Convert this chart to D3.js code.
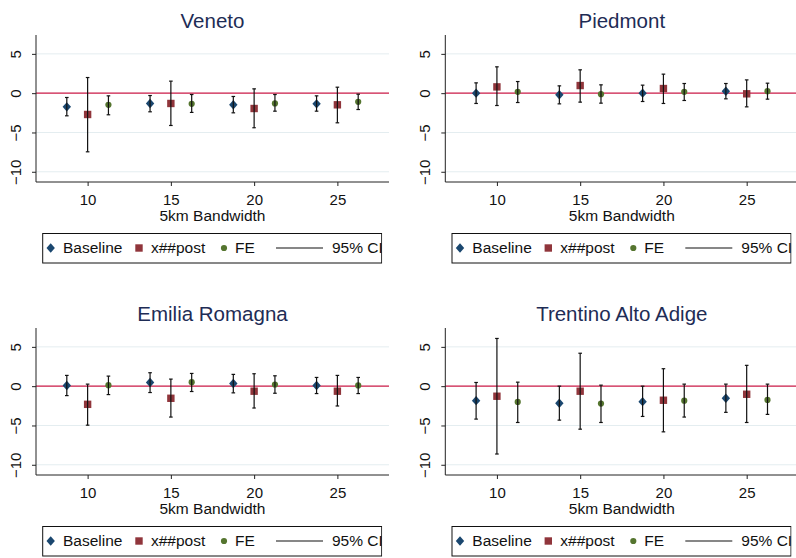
<!DOCTYPE html>
<html><head><meta charset="utf-8">
<script src="https://cdn.jsdelivr.net/npm/d3@7"></script>
<style>body{margin:0;background:#fff}svg{display:block}text{font-family:"Liberation Sans",Arial,sans-serif}</style>
</head><body><svg id="c" width="796" height="558"></svg>
<script>
const bandwidths = [10, 15, 20, 25];
const seriesNames = ["Baseline", "x##post", "FE"];
const seriesOffsets = [-1.25, 0, 1.25];
const yTicks = [5, 0, -5, -10];
const xTicks = [10, 15, 20, 25];
const regions = ["Veneto", "Piedmont", "Emilia Romagna", "Trentino Alto Adige"];

// [estimate, upper, lower] per bandwidth
const venetoBaseline = [[-1.74,-0.55,-2.88],[-1.31,-0.30,-2.37],[-1.48,-0.42,-2.50],[-1.36,-0.34,-2.29]];
const venetoPost     = [[-2.71,1.99,-7.46],[-1.31,1.53,-4.11],[-1.95,0.55,-4.40],[-1.48,0.76,-3.77]];
const venetoFE       = [[-1.48,-0.34,-2.75],[-1.36,-0.17,-2.45],[-1.31,-0.17,-2.29],[-1.10,-0.13,-2.08]];

const piedmontBaseline = [[0.00,1.31,-1.31],[-0.21,0.93,-1.36],[0.00,1.02,-1.06],[0.25,1.23,-0.72]];
const piedmontPost     = [[0.80,3.35,-1.57],[0.97,2.97,-1.14],[0.59,2.42,-1.31],[-0.08,1.69,-1.74]];
const piedmontFE       = [[0.17,1.48,-1.19],[-0.13,1.06,-1.27],[0.17,1.23,-0.93],[0.25,1.27,-0.76]];

const emiliaBaseline = [[0.09,1.37,-1.20],[0.47,1.71,-0.81],[0.34,1.50,-0.85],[0.09,1.11,-0.94]];
const emiliaPost     = [[-2.31,0.26,-4.96],[-1.54,0.90,-3.93],[-0.64,1.58,-2.78],[-0.64,1.37,-2.52]];
const emiliaFE       = [[0.13,1.28,-1.07],[0.51,1.62,-0.68],[0.21,1.32,-0.90],[0.09,1.11,-0.94]];

const trentinoBaseline = [[-1.84,0.47,-4.19],[-2.18,0.00,-4.32],[-1.97,0.00,-3.85],[-1.54,0.26,-3.33]];
const trentinoPost     = [[-1.28,6.07,-8.63],[-0.64,4.19,-5.47],[-1.79,2.22,-5.81],[-1.03,2.65,-4.62]];
const trentinoFE       = [[-2.01,0.51,-4.62],[-2.22,0.13,-4.62],[-1.84,0.26,-3.93],[-1.75,0.26,-3.59]];

const panelData = [
  [venetoBaseline, venetoPost, venetoFE],
  [piedmontBaseline, piedmontPost, piedmontFE],
  [emiliaBaseline, emiliaPost, emiliaFE],
  [trentinoBaseline, trentinoPost, trentinoFE]
];

const colors = ["#1a476f", "#90353b", "#55752f"];
const svg = d3.select("#c");
const defs = svg.append("defs");
const diamondPath = "M0,-4.7L4.2,0L0,4.7L-4.2,0Z";

function drawMarker(sel, s) {
  if (s === 0) sel.append("path").attr("d", diamondPath).attr("fill", colors[0]);
  else if (s === 1) sel.append("rect").attr("x", -3.7).attr("y", -3.7).attr("width", 7.4).attr("height", 7.4).attr("fill", colors[1]);
  else sel.append("circle").attr("r", 3.1).attr("fill", colors[2]);
}

regions.forEach((name, i) => {
  const col = i % 2, row = Math.floor(i / 2);
  const dx = col * 409.3, dy = row * 293;
  const g = svg.append("g").attr("transform", `translate(${dx},${dy})`);
  const x = d3.scaleLinear().domain([6.9, 28.1]).range([36, 389]);
  const y = d3.scaleLinear().domain([-11.3, 7.4]).range([182, 35]);

  g.selectAll(".grid").data(yTicks).join("line")
    .attr("x1", x.range()[0]).attr("x2", x.range()[1])
    .attr("y1", d => y(d)).attr("y2", d => y(d))
    .attr("stroke", "#e4edf0").attr("stroke-width", 1);

  g.append("line").attr("x1", x.range()[0]).attr("x2", x.range()[1])
    .attr("y1", y(0)).attr("y2", y(0)).attr("stroke", "#d01f4a").attr("stroke-width", 1.3);

  const yAxis = d3.axisLeft(y).tickValues(yTicks).tickSize(4).tickFormat(d3.format("d"));
  const ya = g.append("g").attr("transform", `translate(${x.range()[0]},0)`).call(yAxis)
    .attr("font-family", null).attr("font-size", null);
  ya.select(".domain").attr("d", `M0,${y.range()[1]}V${y.range()[0]}`).attr("stroke", "#222");
  ya.selectAll(".tick line").attr("stroke", "#222");
  ya.selectAll(".tick text").attr("font-size", 15).attr("fill", "#111")
    .attr("transform", "rotate(-90)").attr("x", 0).attr("y", -15.5).attr("dy", 0)
    .attr("text-anchor", "middle");

  const xAxis = d3.axisBottom(x).tickValues(xTicks).tickSize(4);
  const xa = g.append("g").attr("transform", `translate(0,${y.range()[0]})`).call(xAxis)
    .attr("font-family", null).attr("font-size", null);
  xa.select(".domain").attr("d", `M${x.range()[0]},0H${x.range()[1]}`).attr("stroke", "#222");
  xa.selectAll(".tick line").attr("stroke", "#222");
  xa.selectAll(".tick text").attr("font-size", 15).attr("fill", "#111").attr("y", 23).attr("dy", 0);

  g.append("text").attr("x", (x.range()[0] + x.range()[1]) / 2).attr("y", 221)
    .attr("text-anchor", "middle").attr("font-size", 15.5).attr("fill", "#111").text("5km Bandwidth");

  g.append("text").attr("x", (x.range()[0] + x.range()[1]) / 2).attr("y", 27.5)
    .attr("text-anchor", "middle").attr("font-size", 20.5).attr("fill", "#1e2c55").text(name);

  panelData[i].forEach((ser, s) => {
    const pts = ser.map((v, k) => ({bx: bandwidths[k] + seriesOffsets[s], est: v[0], hi: v[1], lo: v[2]}));
    const mg = g.append("g");
    mg.selectAll("g").data(pts).join("g")
      .attr("transform", d => `translate(${x(d.bx)},${y(d.est)})`)
      .each(function(){ drawMarker(d3.select(this), s); });
    const cg = g.append("g").attr("stroke", "#111").attr("stroke-width", 1.2);
    cg.selectAll(".v").data(pts).join("line")
      .attr("x1", d => x(d.bx)).attr("x2", d => x(d.bx))
      .attr("y1", d => y(d.hi)).attr("y2", d => y(d.lo));
    ["hi", "lo"].forEach(key => {
      cg.selectAll(".c" + key).data(pts).join("line")
        .attr("x1", d => x(d.bx) - 1.8).attr("x2", d => x(d.bx) + 1.8)
        .attr("y1", d => y(d[key])).attr("y2", d => y(d[key]));
    });
  });

  // legend
  const lx = 42.7, ly = 233.5, lw = 339, lh = 29.5;
  const cid = "clip" + i;
  defs.append("clipPath").attr("id", cid).append("rect")
    .attr("x", lx + dx - 1).attr("y", ly + dy - 1).attr("width", lw + 1.5).attr("height", lh + 2);
  const lg = svg.append("g").attr("clip-path", `url(#${cid})`)
    .append("g").attr("transform", `translate(${dx},${dy})`);
  lg.append("rect").attr("x", lx).attr("y", ly).attr("width", lw).attr("height", lh)
    .attr("fill", "#fff").attr("stroke", "#111").attr("stroke-width", 1);
  const my = 248;
  [50.7, 139, 224].forEach((mx, s) => drawMarker(lg.append("g").attr("transform", `translate(${mx},${my})`), s));
  lg.append("line").attr("x1", 276).attr("x2", 323).attr("y1", my).attr("y2", my)
    .attr("stroke", "#111").attr("stroke-width", 1.2);
  const labels = [[63, seriesNames[0]], [151, seriesNames[1]], [235, seriesNames[2]], [332, "95% CI"]];
  const tg = lg.append("g");
  tg.selectAll("text").data(labels).join("text")
    .attr("x", d => d[0]).attr("y", my + 5.4).attr("font-size", 15.5).attr("fill", "#111").text(d => d[1]);
  // clip the text at box's inner right edge
  defs.append("clipPath").attr("id", cid + "t").append("rect")
    .attr("x", lx + dx).attr("y", ly + dy).attr("width", lw - 0.5).attr("height", lh);
});
</script></body></html>
